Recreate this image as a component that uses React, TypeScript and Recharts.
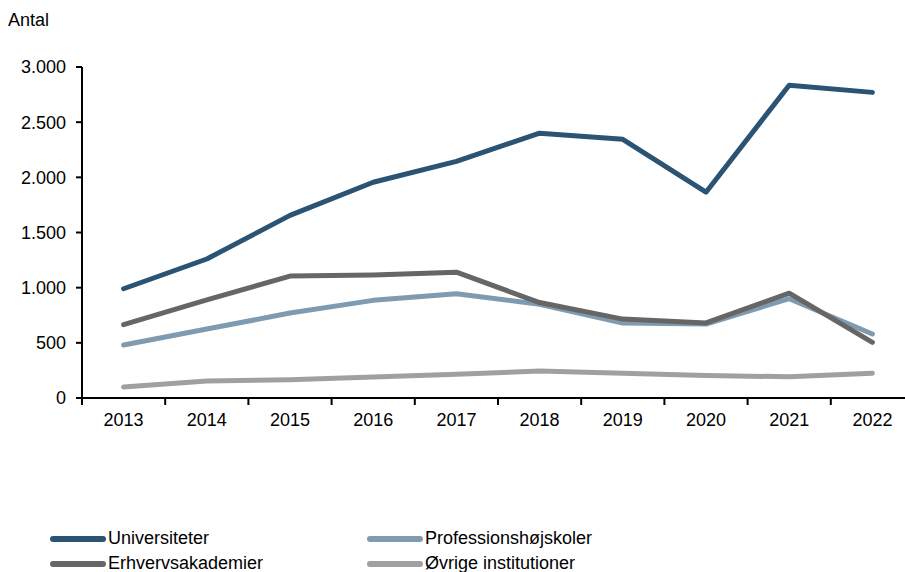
import { LineChart, Line, XAxis, YAxis } from "recharts";

const YEARS = ["2013", "2014", "2015", "2016", "2017", "2018", "2019", "2020", "2021", "2022"];
const UNIVERSITETER = [990, 1260, 1655, 1955, 2145, 2400, 2345, 1865, 2835, 2770];
const PROFESSIONSHOJSKOLER = [480, 625, 770, 885, 945, 850, 680, 670, 900, 580];
const ERHVERVSAKADEMIER = [665, 890, 1105, 1115, 1140, 865, 715, 680, 950, 505];
const OVRIGE = [100, 155, 165, 190, 215, 245, 225, 205, 192, 225];
const Y_TICKS = [0, 500, 1000, 1500, 2000, 2500, 3000];

const SERIES = [
  { key: "uni", name: "Universiteter", color: "#2b5373", values: UNIVERSITETER },
  { key: "prof", name: "Professionshøjskoler", color: "#7f9bb1", values: PROFESSIONSHOJSKOLER },
  { key: "erhv", name: "Erhvervsakademier", color: "#666666", values: ERHVERVSAKADEMIER },
  { key: "ovr", name: "Øvrige institutioner", color: "#a0a0a0", values: OVRIGE },
];

// draw order: grey lines first, Universiteter on top
const DRAW_ORDER = ["ovr", "prof", "erhv", "uni"];

const data = YEARS.map((year, i) => {
  const row: Record<string, string | number> = { year };
  SERIES.forEach((s) => (row[s.key] = s.values[i]));
  return row;
});

const FONT = "'Liberation Sans', Arial, sans-serif";
const CHART_W = 914;
const Y_AXIS_W = 82;
const STEP = (CHART_W - Y_AXIS_W) / YEARS.length;
const TICK_MARGIN = 15;

const fmt = (v: number) => String(v).replace(/\B(?=(\d{3})+(?!\d))/g, ".");

function YearTick(props: any) {
  const { x, y, payload } = props;
  const lx = x - STEP / 2;
  const axisY = y - TICK_MARGIN;
  return (
    <g>
      <line x1={lx} x2={lx} y1={axisY} y2={axisY + 7} stroke="#000" strokeWidth={2} />
      <text x={x} y={y} dy="0.71em" textAnchor="middle" fill="#000" fontSize={18} fontFamily={FONT}>
        {payload.value}
      </text>
    </g>
  );
}

export default function App() {
  return (
    <div
      style={{
        position: "fixed",
        top: 0,
        left: 0,
        width: 905,
        height: 572,
        overflow: "hidden",
        background: "#fff",
        fontFamily: FONT,
      }}
    >
      <div style={{ position: "absolute", left: 8, top: 10, fontSize: 18, color: "#000" }}>Antal</div>
      <LineChart width={CHART_W} height={572} data={data} margin={{ top: 67, right: 0, bottom: 134, left: 0 }}>
        <XAxis
          dataKey="year"
          scale="band"
          height={40}
          tickLine={false}
          tickSize={0}
          tickMargin={TICK_MARGIN}
          axisLine={{ stroke: "#000", strokeWidth: 2 }}
          tick={<YearTick />}
          interval={0}
        />
        <YAxis
          width={Y_AXIS_W}
          domain={[0, 3000]}
          ticks={Y_TICKS}
          tickFormatter={fmt}
          tickSize={6}
          tickMargin={10}
          axisLine={{ stroke: "#000", strokeWidth: 2 }}
          tickLine={{ stroke: "#000", strokeWidth: 2 }}
          tick={{ fill: "#000", fontSize: 18, fontFamily: FONT }}
        />
        {DRAW_ORDER.map((k) => {
          const s = SERIES.find((x) => x.key === k)!;
          return (
            <Line
              key={s.key}
              dataKey={s.key}
              name={s.name}
              stroke={s.color}
              strokeWidth={5}
              strokeLinecap="round"
              strokeLinejoin="round"
              dot={false}
              activeDot={false}
              isAnimationActive={false}
            />
          );
        })}
      </LineChart>
      <div style={{ position: "absolute", left: 50, top: 526, width: 640, display: "flex", flexWrap: "wrap" }}>
        {SERIES.map((s) => (
          <div key={s.key} style={{ width: 317, height: 25, display: "flex", alignItems: "center", fontSize: 18 }}>
            <span
              style={{
                display: "inline-block",
                width: 56,
                height: 6,
                borderRadius: 3,
                background: s.color,
                marginRight: 2,
              }}
            />
            <span>{s.name}</span>
          </div>
        ))}
      </div>
    </div>
  );
}
